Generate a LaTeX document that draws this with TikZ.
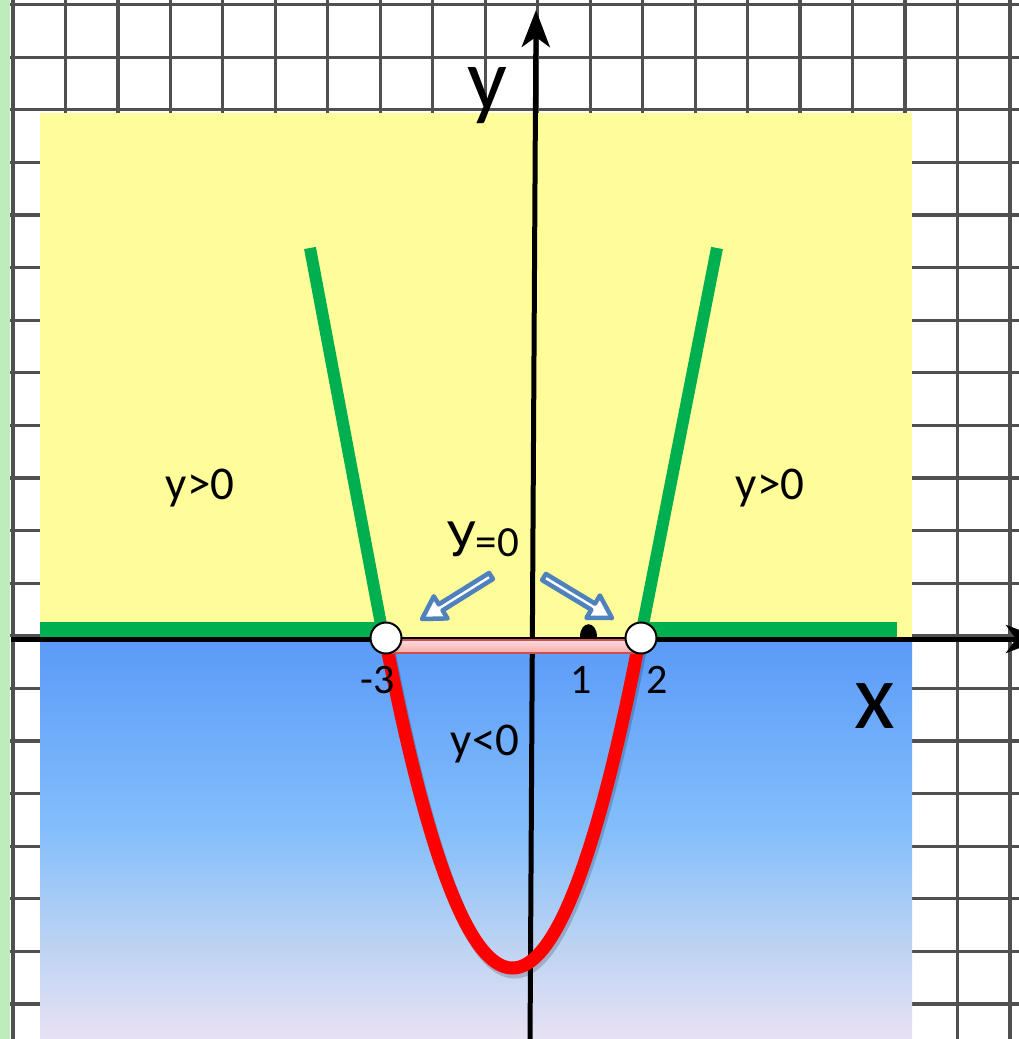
\documentclass[tikz,border=0pt]{standalone}
\usepackage{fontspec}
\setmainfont{Carlito}
\usetikzlibrary{arrows.meta,calc}
\definecolor{gridc}{RGB}{80,80,80}
\definecolor{leftgreen}{RGB}{190,236,187}
\definecolor{yel}{RGB}{255,253,153}
\definecolor{bluetop}{RGB}{90,154,248}
\definecolor{bluemid}{RGB}{132,190,251}
\definecolor{bluelow}{RGB}{185,210,243}
\definecolor{bluebot}{RGB}{232,226,243}
\definecolor{grn}{RGB}{0,176,80}
\definecolor{arrb}{RGB}{79,129,189}
\definecolor{pinkt}{RGB}{255,220,220}
\definecolor{pinkb}{RGB}{243,172,172}
\definecolor{pinkd}{RGB}{205,80,80}
\pgfdeclareverticalshading{bluegrad}{100bp}{color(0bp)=(bluebot); color(25bp)=(bluebot); color(37.5bp)=(bluelow); color(51bp)=(bluemid); color(75bp)=(bluetop); color(100bp)=(bluetop)}
\newcommand\blkarrow[2]{%
  \coordinate (bb) at ($(#2)!22pt!(#1)$);
  \draw[arrb, line width=4.5pt, fill=white, line join=round]
    ($(#1)!3.6pt!90:(#2)$) -- ($(bb)!3.6pt!90:(#2)$) -- ($(bb)!13pt!90:(#2)$)
    -- (#2) -- ($(bb)!13pt!-90:(#2)$) -- ($(bb)!3.6pt!-90:(#2)$)
    -- ($(#1)!3.6pt!-90:(#2)$) -- cycle;}
\begin{document}
\begin{tikzpicture}[x=1pt,y=-1pt,
  gridline/.style={draw=gridc, line width=3.2pt},
  axisline/.style={line width=5pt, -{Stealth[length=37pt,width=28pt,inset=10pt]}},
  greenline/.style={draw=grn, line width=12pt},
  lbl/.style={inner sep=0pt, anchor=base, text=black},
  midfont/.style={font=\fontsize{47}{50}\selectfont},
  numfont/.style={font=\fontsize{42}{46}\selectfont}]
\useasboundingbox (0,0) rectangle (1019,1039);
\clip (0,0) rectangle (1019,1039);
\fill[white] (0,0) rectangle (1019,1039);
% grid
\foreach \i in {0,...,19} {\draw[gridline] ({13+52.47*\i},0) -- ({13+52.47*\i},1039);}
\foreach \j in {0,...,19} {\draw[gridline] (10,{4.5+52.6*\j}) -- (1019,{4.5+52.6*\j});}
\fill[leftgreen] (0,0) rectangle (10,1039);
% regions
\fill[yel] (40,113) rectangle (912,638);
\shade[shading=bluegrad] (40,638) rectangle (912,1039);
% axes
\coordinate (xs) at (11,639);
\coordinate (xe) at (1043,639);
\coordinate (ys) at (530,1045);
\coordinate (ye) at (536,10);
\draw[axisline] (xs) -- (xe);
\draw[axisline] (ys) -- (ye);
% green parts
\fill[grn] (40,622) rectangle (382,637);
\fill[grn] (642,622) rectangle (897,637);
\coordinate (gl1) at (310,248);
\coordinate (gl2) at (382,630);
\coordinate (gr1) at (717,248);
\coordinate (gr2) at (642,630);
\draw[greenline] (gl1) -- (gl2);
\draw[greenline] (gr1) -- (gr2);
% red parabola
\draw[black, opacity=0.18, line width=13pt] plot[domain=386:641, samples=90, smooth] ({\x+2}, {641 + 331*(1-((\x-512.5)/127.5)^2)});
\draw[red, line width=13pt] plot[domain=386:641, samples=90, smooth] (\x, {637 + 331*(1-((\x-512.5)/127.5)^2)});
% pink bar
\shade[top color=pinkt, bottom color=pinkb] (386,640) rectangle (641,653);
\draw[pinkd, line width=1.5pt] (386,640) rectangle (641,653);
% points
\node[circle, fill=white, draw=black, line width=2pt, minimum size=31pt, inner sep=0pt] (pm3) at (386,638) {};
\node[circle, fill=white, draw=black, line width=2pt, minimum size=31pt, inner sep=0pt] (p2) at (641,638) {};
\fill[black] (580,637) .. controls (580,620) and (597,620) .. (597,637) -- cycle;
% labels
\node[lbl, font=\fontsize{88}{92}\selectfont] (ylab) at (487,109) {y};
\node[lbl, font=\fontsize{94}{98}\selectfont] (xlab) at (875,728) {x};
\node[lbl, midfont] (ypl) at (200,499) {y>0};
\node[lbl, midfont] (ypr) at (770,499) {y>0};
\node[lbl, midfont] (yneg) at (485,755) {y<0};
\node[lbl, numfont] (lm3) at (378,693) {-3};
\node[lbl, numfont] (l1) at (581,693) {1};
\node[lbl, numfont] (l2) at (657,693) {2};
\node[lbl, anchor=base west] (yeq) at (447,556) {{\fontsize{54}{58}\selectfont У}{\fontsize{43}{46}\selectfont =0}};
% block arrows
\coordinate (a1t) at (491,576);
\coordinate (a1h) at (422,619);
\coordinate (a2t) at (544,577);
\coordinate (a2h) at (612,618);
\blkarrow{a1t}{a1h}
\blkarrow{a2t}{a2h}
\end{tikzpicture}
\end{document}
